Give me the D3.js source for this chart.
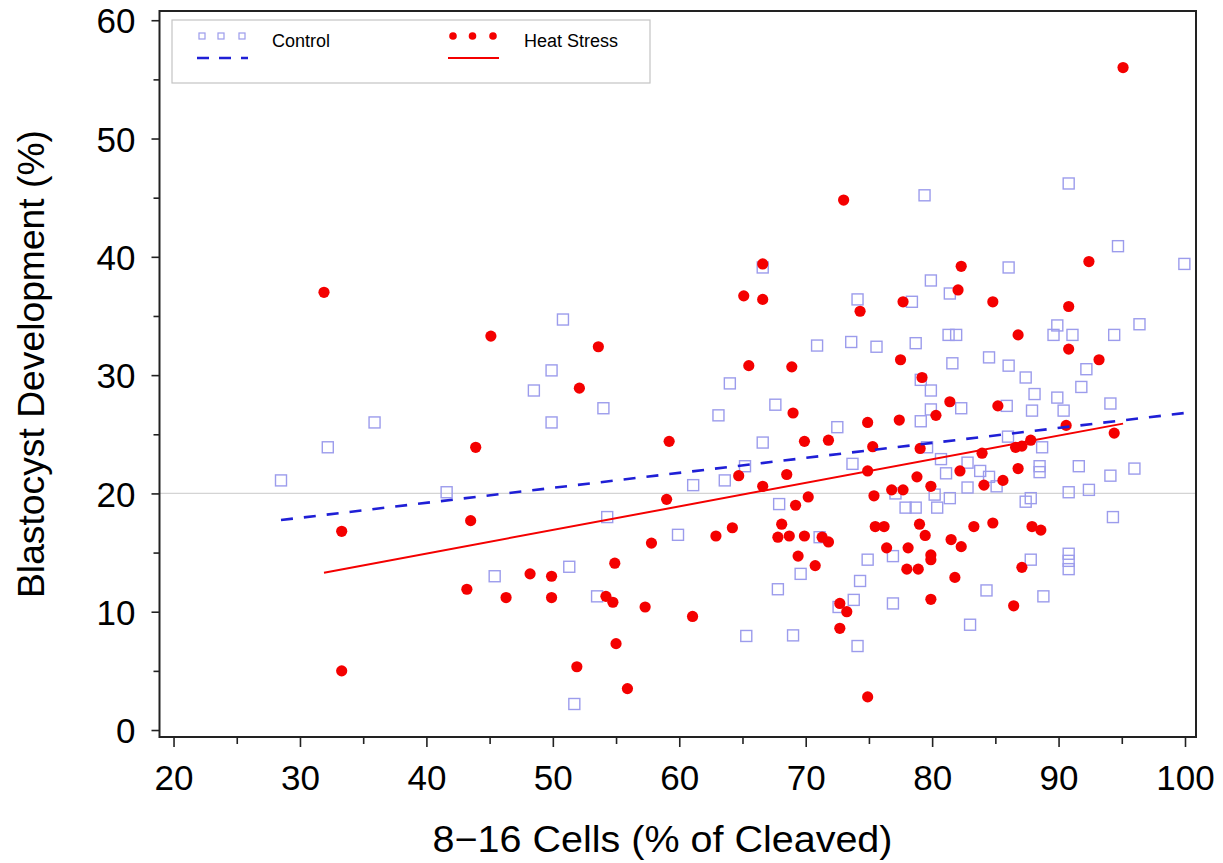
<!DOCTYPE html>
<html>
<head>
<meta charset="utf-8">
<script src="https://cdn.jsdelivr.net/npm/d3@7"></script>
<style>
  body { margin: 0; background: #fff; }
  svg { display: block; font-family: "Liberation Sans", Arial, sans-serif; }
</style>
</head>
<body>
<svg id="chart"></svg>
<script>
// Control group (open squares)
const controlX = [28.5, 32.2, 35.9, 41.6, 45.4, 48.5, 49.9, 49.9, 50.8, 51.3, 51.7, 53.5, 54.0, 54.3, 59.9,
  61.1, 63.6, 63.1, 64.0, 65.2, 65.3, 66.6, 66.6, 67.6, 67.8, 67.9, 69.0, 69.6, 70.9, 71.1,
  72.5, 72.6, 73.6, 73.7, 73.8, 74.1, 74.1, 74.3, 74.9, 75.6, 76.9, 76.9, 77.1, 77.9, 78.4,
  78.7, 78.7, 79.1, 79.1, 79.4, 79.6, 79.9, 79.9, 79.9, 80.2, 80.4, 80.7, 81.1, 81.3, 81.4,
  81.4, 81.6, 81.9, 82.3, 82.8, 82.8, 83.0, 83.8, 84.3, 84.5, 84.5, 85.1, 85.9, 86.0, 86.05,
  86.05, 87.4, 87.4, 87.8, 87.8, 87.9, 88.1, 88.5, 88.5, 88.7, 88.8, 89.6, 89.9, 89.9, 90.4,
  90.8, 90.8, 90.8, 90.8, 90.8, 91.1, 91.6, 91.8, 92.2, 92.4, 94.1, 94.1, 94.3, 94.4, 94.7,
  96.0, 96.4, 99.95];
const controlY = [21.1, 23.9, 26.0, 20.1, 13.0, 28.7, 26.0, 30.4, 34.7, 13.8, 2.2, 11.3, 27.2, 18.0, 16.5,
  20.7, 21.1, 26.6, 29.3, 22.3, 7.95, 24.3, 39.1, 27.5, 11.9, 19.1, 8.0, 13.2, 32.5, 16.3,
  25.6, 10.4, 32.8, 22.5, 11.0, 36.4, 7.1, 12.6, 14.4, 32.4, 14.7, 10.7, 20.0, 18.8, 36.2,
  32.7, 18.8, 29.6, 26.1, 45.2, 23.9, 38.0, 28.7, 27.1, 19.9, 18.8, 22.9, 21.7, 33.4, 36.9,
  19.6, 31.0, 33.4, 27.2, 22.6, 20.5, 8.9, 21.9, 11.8, 31.5, 21.4, 20.6, 27.4, 24.8, 39.1,
  30.8, 29.8, 19.3, 19.6, 14.4, 27.0, 28.4, 22.3, 21.8, 23.9, 11.3, 33.4, 34.2, 28.1, 27.0,
  46.2, 20.1, 14.9, 14.3, 13.6, 33.4, 22.3, 29.0, 30.5, 20.3, 27.6, 21.5, 18.0, 33.4, 40.9,
  22.1, 34.3, 39.4];

// Heat stress group (filled dots)
const heatX = [31.9, 33.3, 33.3, 43.2, 43.5, 43.9, 45.1, 46.3, 48.2, 49.9, 49.9, 51.9, 52.1, 53.6, 54.2,
  54.75, 54.9, 55.0, 55.9, 57.3, 57.8, 59.0, 59.2, 61.05, 62.9, 64.2, 64.7, 65.1, 65.5, 66.6,
  66.6, 66.6, 67.8, 68.1, 68.5, 68.7, 68.9, 69.0, 69.2, 69.4, 69.9, 69.9, 70.2, 70.75, 71.3,
  71.8, 71.8, 72.7, 72.7, 73.0, 73.25, 74.3, 74.9, 74.9, 74.9, 75.3, 75.4, 75.5, 76.2, 76.4,
  76.8, 77.4, 77.5, 77.7, 77.7, 78.0, 78.1, 78.8, 78.9, 79.0, 79.05, 79.2, 79.45, 79.9, 79.9,
  79.9, 79.9, 80.3, 81.4, 81.5, 81.8, 82.05, 82.2, 82.3, 82.3, 83.3, 83.95, 84.1, 84.8, 84.8,
  85.2, 85.6, 86.45, 86.6, 86.8, 86.8, 87.1, 87.1, 87.8, 87.9, 88.6, 90.6, 90.8, 90.8, 92.4,
  93.2, 94.4, 95.1];
const heatY = [37.0, 16.8, 5.0, 11.9, 17.7, 23.9, 33.3, 11.2, 13.2, 13.0, 11.2, 5.35, 28.9, 32.4, 11.3,
  10.8, 14.1, 7.3, 3.5, 10.4, 15.8, 19.5, 24.4, 9.6, 16.4, 17.1, 21.5, 36.7, 30.8, 39.4,
  36.4, 20.6, 16.3, 17.4, 21.6, 16.4, 30.7, 26.8, 19.0, 14.7, 24.4, 16.4, 19.7, 13.9, 16.3,
  24.5, 15.9, 10.7, 8.6, 44.8, 10.0, 35.4, 26.0, 21.9, 2.8, 23.95, 19.8, 17.2, 17.2, 15.4,
  20.3, 26.2, 31.3, 36.2, 20.3, 13.6, 15.4, 21.4, 13.6, 17.4, 23.8, 29.8, 16.45, 20.6, 14.8,
  14.4, 11.05, 26.6, 27.75, 16.1, 12.9, 37.2, 21.9, 39.2, 15.5, 17.2, 23.4, 20.7, 36.2, 17.5,
  27.4, 21.1, 10.5, 23.9, 33.4, 22.1, 24.0, 13.75, 24.5, 17.2, 16.9, 25.75, 35.8, 32.2, 39.6,
  31.3, 25.1, 56.0];

// Fitted regression lines (end points)
const controlFitX = [28.5, 100];
const controlFitY = [17.75, 26.8];
const heatFitX = [31.9, 95.1];
const heatFitY = [13.3, 25.9];

const xTicks = [20, 30, 40, 50, 60, 70, 80, 90, 100];
const xMinorTicks = [25, 35, 45, 55, 65, 75, 85, 95];
const yTicks = [0, 10, 20, 30, 40, 50, 60];
const yMinorTicks = [5, 15, 25, 35, 45, 55];
const refLineY = 20;

const seriesNames = ["Control", "Heat Stress"];

const W = 1223, H = 863;
const frame = { left: 159.5, right: 1196, top: 11, bottom: 737 };

const svg = d3.select("#chart").attr("width", W).attr("height", H);

const x = d3.scaleLinear().domain([18.89, 100.87]).range([frame.left, frame.right]);
const y = d3.scaleLinear().domain([-0.59, 60.78]).range([frame.bottom, frame.top]);

const squareColor = "#9c9cec";
const red = "#f40000";
const blue = "#1f1fd6";

// reference line at 20
svg.append("line")
  .attr("x1", frame.left).attr("x2", frame.right)
  .attr("y1", y(refLineY)).attr("y2", y(refLineY))
  .attr("stroke", "#d4d4d4").attr("stroke-width", 1.2);

// control squares
const sq = 11;
svg.append("g").selectAll("rect")
  .data(d3.zip(controlX, controlY))
  .join("rect")
  .attr("x", d => x(d[0]) - sq / 2)
  .attr("y", d => y(d[1]) - sq / 2)
  .attr("width", sq).attr("height", sq)
  .attr("fill", "none")
  .attr("stroke", squareColor)
  .attr("stroke-width", 1.4);

// heat stress dots
svg.append("g").selectAll("circle")
  .data(d3.zip(heatX, heatY))
  .join("circle")
  .attr("cx", d => x(d[0]))
  .attr("cy", d => y(d[1]))
  .attr("r", 5.6)
  .attr("fill", red);

const line = d3.line().x(d => x(d[0])).y(d => y(d[1]));

svg.append("path")
  .attr("d", line(d3.zip(controlFitX, controlFitY)))
  .attr("fill", "none")
  .attr("stroke", blue)
  .attr("stroke-width", 2.6)
  .attr("stroke-dasharray", "12,11");

svg.append("path")
  .attr("d", line(d3.zip(heatFitX, heatFitY)))
  .attr("fill", "none")
  .attr("stroke", red)
  .attr("stroke-width", 2);

// frame
svg.append("rect")
  .attr("x", frame.left).attr("y", frame.top)
  .attr("width", frame.right - frame.left)
  .attr("height", frame.bottom - frame.top)
  .attr("fill", "none")
  .attr("stroke", "#222")
  .attr("stroke-width", 2);

// axes
const xAxis = svg.append("g")
  .attr("transform", `translate(0,${frame.bottom})`)
  .call(d3.axisBottom(x).tickValues(xTicks).tickSize(10).tickPadding(18));
xAxis.select(".domain").remove();
xAxis.selectAll(".tick line").attr("stroke", "#222").attr("stroke-width", 1.6);
xAxis.selectAll("text").attr("fill", "#000").style("font-size", "35px");

svg.append("g")
  .attr("transform", `translate(0,${frame.bottom})`)
  .call(d3.axisBottom(x).tickValues(xMinorTicks).tickSize(7).tickFormat(""))
  .call(g => g.select(".domain").remove())
  .selectAll(".tick line").attr("stroke", "#222").attr("stroke-width", 1.6);

const yAxis = svg.append("g")
  .attr("transform", `translate(${frame.left},0)`)
  .call(d3.axisLeft(y).tickValues(yTicks).tickSize(8).tickPadding(16));
yAxis.select(".domain").remove();
yAxis.selectAll(".tick line").attr("stroke", "#222").attr("stroke-width", 1.6);
yAxis.selectAll("text").attr("fill", "#000").style("font-size", "35px").attr("dy", "0.36em");

svg.append("g")
  .attr("transform", `translate(${frame.left},0)`)
  .call(d3.axisLeft(y).tickValues(yMinorTicks).tickSize(6).tickFormat(""))
  .call(g => g.select(".domain").remove())
  .selectAll(".tick line").attr("stroke", "#222").attr("stroke-width", 1.6);

// axis titles
svg.append("text")
  .attr("x", (432 + 893) / 2)
  .attr("y", 852)
  .attr("text-anchor", "middle")
  .attr("textLength", 460)
  .attr("lengthAdjust", "spacingAndGlyphs")
  .style("font-size", "37px")
  .text("8\u221216 Cells (% of Cleaved)");

svg.append("text")
  .attr("transform", "translate(44,364) rotate(-90)")
  .attr("text-anchor", "middle")
  .attr("textLength", 468)
  .attr("lengthAdjust", "spacingAndGlyphs")
  .style("font-size", "37px")
  .text("Blastocyst Development (%)");

// legend
const legend = svg.append("g");
legend.append("rect")
  .attr("x", 172).attr("y", 20).attr("width", 478).attr("height", 63)
  .attr("fill", "#fff").attr("stroke", "#c4c4c4").attr("stroke-width", 1.2);

legend.selectAll("rect.sym")
  .data([202, 221, 242])
  .join("rect").attr("class", "sym")
  .attr("x", d => d - 3).attr("y", 33).attr("width", 6).attr("height", 6)
  .attr("fill", "none").attr("stroke", squareColor).attr("stroke-width", 1.2);
legend.append("line")
  .attr("x1", 197).attr("x2", 248).attr("y1", 58).attr("y2", 58)
  .attr("stroke", blue).attr("stroke-width", 2.6).attr("stroke-dasharray", "12,10");
legend.append("text")
  .attr("x", 272).attr("y", 47)
  .style("font-size", "18px")
  .text(seriesNames[0]);

legend.selectAll("circle")
  .data([453, 472.5, 493])
  .join("circle")
  .attr("cx", d => d).attr("cy", 36).attr("r", 3.8).attr("fill", red);
legend.append("line")
  .attr("x1", 448).attr("x2", 499).attr("y1", 58).attr("y2", 58)
  .attr("stroke", red).attr("stroke-width", 2);
legend.append("text")
  .attr("x", 524).attr("y", 47)
  .style("font-size", "18px")
  .style("white-space", "pre")
  .text(seriesNames[1]);
</script>
</body>
</html>
